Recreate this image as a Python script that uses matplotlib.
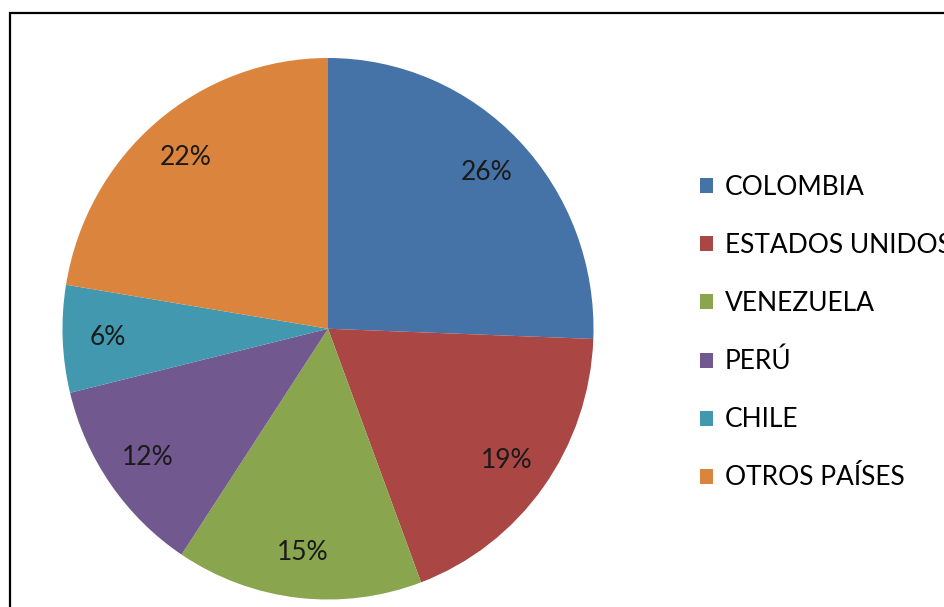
import matplotlib.pyplot as plt
from matplotlib.patches import Rectangle

plt.rcParams['font.family'] = ['Lato', 'DejaVu Sans']

# data (percent shares)
countries = ['COLOMBIA', 'ESTADOS UNIDOS', 'VENEZUELA', 'PERÚ', 'CHILE', 'OTROS PAÍSES']
shares = [25.6, 18.7, 15.0, 11.9, 6.4, 22.4]
colors = ['#4572A7', '#AA4643', '#89A54E', '#71588F', '#4198AF', '#DB843D']

fig = plt.figure(figsize=(9.44, 6.07), dpi=100)

# frame around the chart (runs off the right and bottom edges)
fig.patches.append(Rectangle((10 / 944, -0.1), 1.0, 1 - 13 / 607 + 0.1,
                             transform=fig.transFigure, fill=False,
                             edgecolor='black', linewidth=1.6))

ax = fig.add_axes([62.5 / 944, 7.5 / 607, 531 / 944, 541.5 / 607])
wedges, texts, autotexts = ax.pie(shares, colors=colors, startangle=90, counterclock=False,
                                  autopct='%1.0f%%', pctdistance=0.83,
                                  textprops={'fontsize': 19, 'color': '#1a1a1a'},
                                  wedgeprops={'linewidth': 0})
ax.set_aspect('auto')
ax.set_xlim(-1, 1)
ax.set_ylim(-1, 1)

fig.legend(wedges, countries, loc='upper left', bbox_to_anchor=(700 / 944, 1 - 175 / 607),
           frameon=False, fontsize=19, handlelength=0.5, handleheight=0.5,
           handletextpad=0.45, labelspacing=1.25, borderaxespad=0, borderpad=0)

fig.savefig('out.png', dpi=100)
